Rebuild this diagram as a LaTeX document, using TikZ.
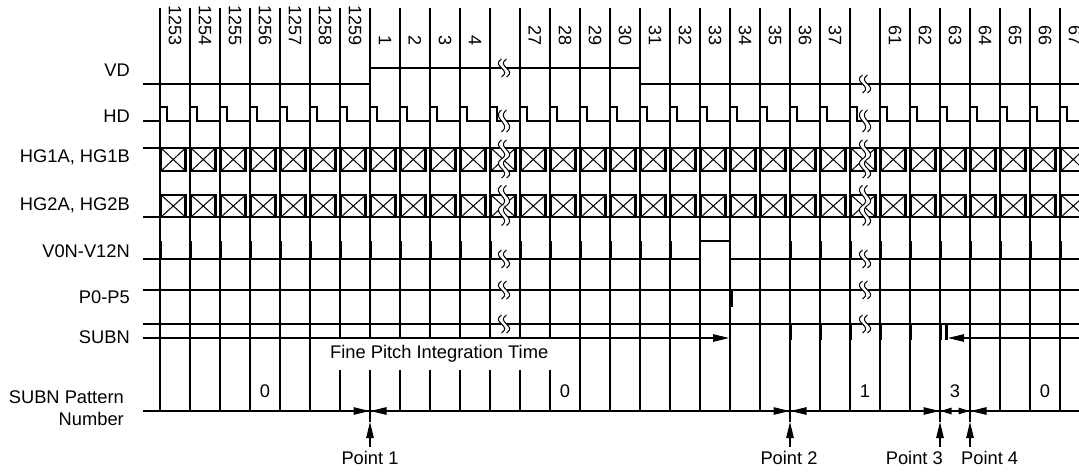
\documentclass[tikz,border=0pt]{standalone}
\usepackage{fontspec}
\setmainfont{Liberation Sans}
\usetikzlibrary{arrows.meta}
\newcommand\brk[3]{%
  \fill[white] (#1-2.5,#2-#3) .. controls (#1-13.5,#2-0.2*#3) and (#1+8.5,#2+0.2*#3) .. (#1-2.5,#2+#3) -- (#1+2.5,#2+#3) .. controls (#1+13.5,#2+0.2*#3) and (#1-8.5,#2-0.2*#3) .. (#1+2.5,#2-#3) -- cycle;
  \draw[brkln] (#1-2.5,#2-#3) .. controls (#1-13.5,#2-0.2*#3) and (#1+8.5,#2+0.2*#3) .. (#1-2.5,#2+#3);
  \draw[brkln] (#1+2.5,#2-#3) .. controls (#1-8.5,#2-0.2*#3) and (#1+13.5,#2+0.2*#3) .. (#1+2.5,#2+#3);
}
\begin{document}
\begin{tikzpicture}[x=1pt,y=-1pt,
  gl/.style={line width=1.05pt},
  sig/.style={line width=2.6pt, line join=miter},
  tk/.style={line width=2.8pt},
  bx/.style={line width=2.4pt},
  brkln/.style={line width=1pt},
  lbl/.style={font=\fontsize{18.3}{22}\selectfont, inner sep=0pt},
  num/.style={font=\fontsize{18}{20}\selectfont, inner sep=0pt, rotate=-90, anchor=east},
  arr/.style={-{Triangle[length=16pt,width=7.5pt]}, line width=1.1pt},
  sarr/.style={{Triangle[length=11pt,width=6.5pt]}-{Triangle[length=11pt,width=6.5pt]}, line width=1.1pt},
]
\useasboundingbox (0,0) rectangle (1079,472);
\begin{scope}
\clip (0,0) rectangle (1079,472);
% grid lines
\foreach \i in {0,1,2,3,4,5,14,15,16,17,18,19,20,22,23,24,25,28,29,30}
  \draw[gl] ({160+30*\i},8) -- ({160+30*\i},411);
\foreach \i in {6,8,9,10,11,12,13}
  \draw[gl] ({160+30*\i},8) -- ({160+30*\i},338) ({160+30*\i},370) -- ({160+30*\i},411);
\draw[gl] (370,8) -- (370,338) (370,370) -- (370,422);
\foreach \i in {21,26,27}
  \draw[gl] ({160+30*\i},8) -- ({160+30*\i},422);
% column numbers
\foreach \c/\t in {0/1253,1/1254,2/1255,3/1256,4/1257,5/1258,6/1259,7/1,8/2,9/3,10/4,
  12/27,13/28,14/29,15/30,16/31,17/32,18/33,19/34,20/35,21/36,22/37,
  24/61,25/62,26/63,27/64,28/65,29/66,30/67}
  \node[num] (n\c) at ({175+30*\c},46) {\t};
% VD
\draw[sig] (143,84) -- (370,84) -- (370,68) -- (640,68) -- (640,84) -- (1079,84);
% HD
\draw[sig] (143,121) foreach \i in {0,...,30}{ -- ({160+30*\i},121) -- ++(0,-14) -- ++(7,0) -- ++(0,14) } -- (1079,121);
% HG1
\draw[sig] (143,148) -- (1079,148);
\foreach \i in {0,...,30}{
  \draw[bx] ({161+30*\i},148) rectangle ({185.5+30*\i},171);
  \draw[brkln] ({161+30*\i},148) -- ({185.5+30*\i},171) ({161+30*\i},171) -- ({185.5+30*\i},148);
}
% HG2
\draw[sig] (143,217) -- (1079,217);
\foreach \i in {0,...,30}{
  \draw[bx] ({161+30*\i},195) rectangle ({185.5+30*\i},217);
  \draw[brkln] ({161+30*\i},195) -- ({185.5+30*\i},217) ({161+30*\i},217) -- ({185.5+30*\i},195);
}
% V0N-V12N
\draw[sig] (143,259) -- (700,259) -- (700,241) -- (730,241) -- (730,259) -- (1079,259);
\foreach \i in {0,...,17} \draw[tk] ({161+30*\i},241) -- ({161+30*\i},259);
\foreach \i in {21,...,30} \draw[tk] ({161+30*\i},241) -- ({161+30*\i},259);
% P0-P5
\draw[sig] (143,290) -- (1079,290);
\draw[tk] (731.5,290) -- (731.5,307);
% SUBN
\draw[sig] (143,324) -- (1079,324);
\foreach \x in {790,820,850,880,910,940,946} \draw[tk] (\x+0.5,324) -- (\x+0.5,340);
% fine pitch arrows
\draw[arr] (143,338) -- (729,338);
\draw[arr] (1079,338) -- (948,338);
% pattern baseline
\draw[line width=1.2pt] (143,411) -- (1079,411);
\draw[arr] (345,411) -- (369.5,411);
\draw[arr] (395,411) -- (370.5,411);
\draw[arr] (765,411) -- (789.5,411);
\draw[arr] (815,411) -- (790.5,411);
\draw[arr] (915,411) -- (939.5,411);
\draw[arr] (995,411) -- (970.5,411);
\draw[sarr] (940.5,411) -- (969.5,411);
% point arrows
\foreach \x in {370,790,940,970} \draw[arr] (\x,447) -- (\x,422);
% breaks
\foreach \x/\v in {504/68,865/84}{
  \brk{\x}{\v}{9}
  \brk{\x}{121}{11}
  \brk{\x}{149.5}{9.5}
  \brk{\x}{168.5}{9.5}
  \brk{\x}{195.5}{10}
  \brk{\x}{215.5}{10}
  \brk{\x}{259}{9}
  \brk{\x}{290}{9}
  \brk{\x}{324}{9}
}
\end{scope}
% labels
\node[lbl,anchor=east] (lvd) at (130,70) {VD};
\node[lbl,anchor=east] (lhd) at (130,116) {HD};
\node[lbl,anchor=east] (lhg1) at (130,157) {HG1A, HG1B};
\node[lbl,anchor=east] (lhg2) at (130,205) {HG2A, HG2B};
\node[lbl,anchor=east] (lv) at (130,251) {V0N-V12N};
\node[lbl,anchor=east] (lp) at (130,297) {P0-P5};
\node[lbl,anchor=east] (ls) at (130,337) {SUBN};
\node[lbl,anchor=east,align=right] (lpat) at (124,408) {SUBN Pattern\\Number};
\node[lbl,anchor=west] (fpit) at (330,354) {Fine Pitch Integration Time};
\node[lbl] (p0a) at (265,391) {0};
\node[lbl] (p0b) at (565,391) {0};
\node[lbl] (p1) at (865,391) {1};
\node[lbl] (p3) at (955,391) {3};
\node[lbl] (p0c) at (1045,391) {0};
\node[lbl] (pt1) at (370,458) {Point 1};
\node[lbl] (pt2) at (789,458) {Point 2};
\node[lbl,anchor=east] (pt3) at (943,458) {Point 3};
\node[lbl,anchor=west] (pt4) at (961,458) {Point 4};
\end{tikzpicture}
\end{document}
